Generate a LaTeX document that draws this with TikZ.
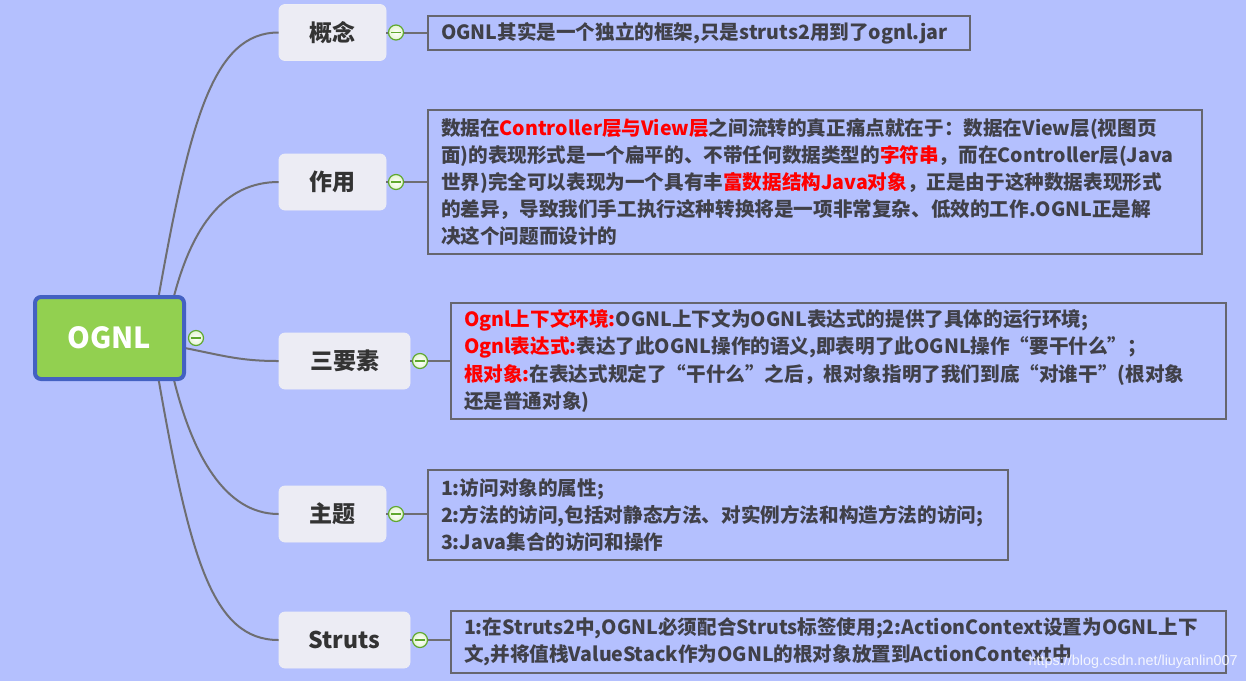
\documentclass[tikz,border=0pt]{standalone}
\usepackage{fontspec}
\setmainfont{Noto Sans CJK SC}
\newfontfamily\wmfont{Liberation Sans}
\definecolor{bgc}{HTML}{B4C0FE}
\definecolor{rootfill}{HTML}{92D050}
\definecolor{rootline}{HTML}{4361C2}
\definecolor{brfill}{HTML}{ECECF4}
\definecolor{brtext}{HTML}{333333}
\definecolor{dtext}{HTML}{404048}
\definecolor{dline}{HTML}{66666E}
\definecolor{conn}{HTML}{6E6E72}
\definecolor{hl}{HTML}{FF0000}
\definecolor{cgreen}{HTML}{5FA82E}
\definecolor{cfill}{HTML}{E4F5D2}
\tikzset{
  rootbox/.style={draw=rootline, line width=2pt, fill=rootfill, rounded corners=3pt,
    minimum width=74.5pt, minimum height=41pt, text=white,
    font=\fontsize{14.5}{16}\selectfont\bfseries},
  branch/.style={fill=brfill, draw=brfill!90!white, rounded corners=3pt, minimum height=28pt,
    text=brtext, font=\fontsize{11.5}{13}\selectfont\bfseries},
  detail/.style={draw=dline, line width=1pt, anchor=north west, align=left,
    inner xsep=6.5pt, inner ysep=0pt, text=dtext,
    font=\fontsize{9.8}{13.6}\selectfont\bfseries},
  fold/.style={circle, draw=cgreen, line width=0.6pt, inner color=white, outer color=cfill,
    minimum size=7.5pt, inner sep=0pt,
    path picture={\draw[cgreen, line width=0.7pt] ([xshift=-2.3pt]path picture bounding box.center) -- ([xshift=2.3pt]path picture bounding box.center);}},
  curve/.style={draw=conn, line width=1pt},
  tie/.style={draw=conn, line width=1pt},
}
\newcommand{\hlt}[1]{\textcolor{hl}{#1}}
\begin{document}
\begin{tikzpicture}[x=0.5pt, y=-0.5pt]
\useasboundingbox (0,0) rectangle (1246,681);
\fill[bgc] (0,0) rectangle (1246,681);

% branch nodes
\node[branch, minimum width=53.5pt] (b1) at (332.5,32.5) {概念};
\node[branch, minimum width=53.5pt] (b2) at (332.5,182) {作用};
\node[branch, minimum width=65.5pt] (b3) at (344.5,361) {三要素};
\node[branch, minimum width=53.5pt] (b4) at (332.5,514) {主题};
\node[branch, minimum width=65.5pt] (b5) at (344.5,640) {Struts};

% root anchor coordinates (hidden under root)
\coordinate (r1) at (158,300);
\coordinate (r2) at (173,300);
\coordinate (r3) at (180,347);
\coordinate (r4) at (173,376);
\coordinate (r5) at (158,376);

% curves
\draw[curve] (r1) .. controls (190,120) and (213,32.5) .. (b1.west);
\draw[curve] (r2) .. controls (192,225) and (225,182) .. (b2.west);
\draw[curve] (r3) .. controls (225,356) and (240,361) .. (b3.west);
\draw[curve] (r4) .. controls (192,455) and (225,514) .. (b4.west);
\draw[curve] (r5) .. controls (190,560) and (213,640) .. (b5.west);

% root
\node[rootbox] (root) at (109.5,338) {OGNL};
\node[fold] (c0) at (196,338) {};

% fold circles
\node[fold] (c1) at (396,32.5) {};
\node[fold] (c2) at (396,182) {};
\node[fold] (c3) at (420,361) {};
\node[fold] (c4) at (396,514) {};
\node[fold] (c5) at (420,640) {};
\draw[tie] (b1.east) -- (c1.west);
\draw[tie] (b2.east) -- (c2.west);
\draw[tie] (b3.east) -- (c3.west);
\draw[tie] (b4.east) -- (c4.west);
\draw[tie] (b5.east) -- (c5.west);

% detail boxes
\node[detail, text width=258pt, minimum height=17pt] (d1) at (427,15)
  {OGNL其实是一个独立的框架,只是struts2用到了ognl.jar};
\node[detail, text width=374pt, minimum height=72pt] (d2) at (427,109)
  {数据在\hlt{Controller层与View层}之间流转的真正痛点就在于：数据在View层(视图页\\
   面)的表现形式是一个扁平的、不带任何数据类型的\hlt{字符串}，而在Controller层(Java\\
   世界)完全可以表现为一个具有丰\hlt{富数据结构Java对象}，正是由于这种数据表现形式\\
   的差异，导致我们手工执行这种转换将是一项非常复杂、低效的工作.OGNL正是解\\
   决这个问题而设计的};
\node[detail, text width=374.5pt, minimum height=58pt] (d3) at (450,302)
  {\hlt{Ognl上下文环境:}OGNL上下文为OGNL表达式的提供了具体的运行环境;\\
   \hlt{Ognl表达式:}表达了此OGNL操作的语义,即表明了此OGNL操作“要干什么”；\\
   \hlt{根对象:}在表达式规定了“干什么”之后，根对象指明了我们到底“对谁干”(根对象\\
   还是普通对象)};
\node[detail, text width=277pt, minimum height=45pt] (d4) at (427,469)
  {1:访问对象的属性;\\
   2:方法的访问,包括对静态方法、对实例方法和构造方法的访问;\\
   3:Java集合的访问和操作};
\node[detail, text width=374.5pt, minimum height=31pt] (d5) at (450,610)
  {1:在Struts2中,OGNL必须配合Struts标签使用;2:ActionContext设置为OGNL上下\\
   文,并将值栈ValueStack作为OGNL的根对象放置到ActionContext中};

\draw[tie] (c1.east) -- (c1.east -| d1.west);
\draw[tie] (c2.east) -- (c2.east -| d2.west);
\draw[tie] (c3.east) -- (c3.east -| d3.west);
\draw[tie] (c4.east) -- (c4.east -| d4.west);
\draw[tie] (c5.east) -- (c5.east -| d5.west);

% watermark
\node[anchor=east, text=white, opacity=0.85, inner sep=0pt,
  font=\wmfont\fontsize{7.2}{8}\selectfont] (wm) at (1238,662) {https://blog.csdn.net/liuyanlin007};
\end{tikzpicture}
\end{document}
